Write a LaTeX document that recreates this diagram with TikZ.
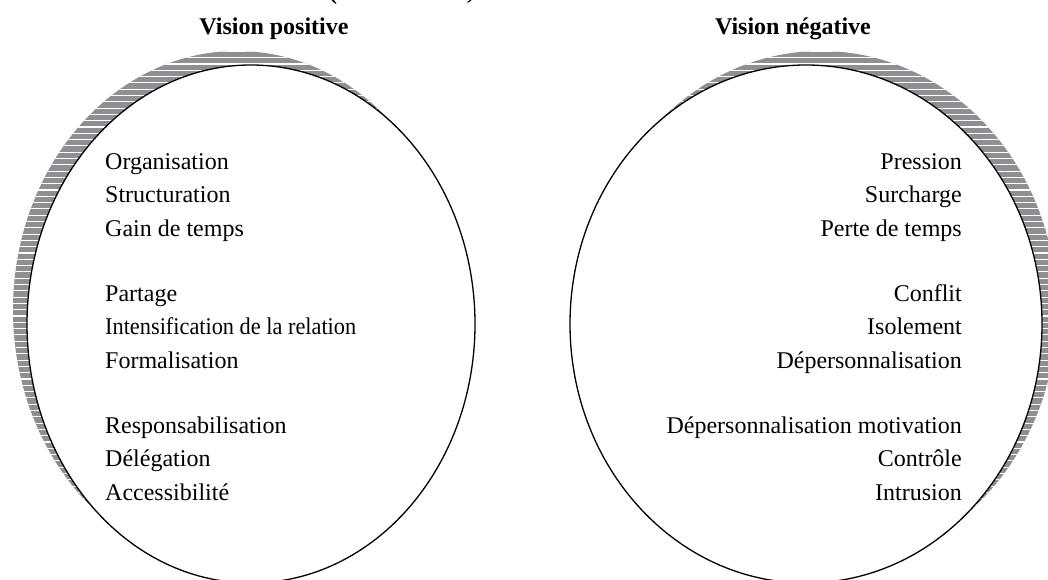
\documentclass[tikz,border=0pt]{standalone}
\usepackage{fontspec}
\setmainfont{Liberation Serif}
\definecolor{shadowgray}{HTML}{8E8F93}
\tikzset{
  heading/.style={font=\bfseries\fontsize{24}{28}\selectfont, inner sep=0pt, anchor=base},
  leftitem/.style={font=\fontsize{24}{28}\selectfont, inner sep=0pt, anchor=base west},
  rightitem/.style={font=\fontsize{24}{28}\selectfont, inner sep=0pt, anchor=base east},
  rim/.style={draw=black, line width=1.3pt, fill=white},
  stripe/.style={white, line width=1.1pt}
}
\begin{document}
\begin{tikzpicture}[x=1pt,y=-1pt]
\useasboundingbox (0,0) rectangle (1048,580);
\clip (0,0) rectangle (1048,580);

% striped shadow behind the left oval
\begin{scope}
  \clip (237,310) ellipse [x radius=224, y radius=259];
  \fill[shadowgray] (0,0) rectangle (524,580);
  \foreach \y in {1,7.3,...,580} \draw[stripe] (0,\y) -- (524,\y);
\end{scope}
% striped shadow behind the right oval
\begin{scope}
  \clip (821,310) ellipse [x radius=236, y radius=259];
  \fill[shadowgray] (524,0) rectangle (1048,580);
  \foreach \y in {1,7.3,...,580} \draw[stripe] (524,\y) -- (1048,\y);
\end{scope}

% the two ovals
\draw[rim] (251,324) ellipse [x radius=224, y radius=259];
\draw[rim] (806,324) ellipse [x radius=236, y radius=259];

% cropped caption line above the headings
\node[heading] (capopen) at (333,0) {(};
\node[heading] (capcomma) at (470,0) {,};

% headings
\node[heading] (hpos) at (274,35) {Vision positive};
\node[heading] (hneg) at (793,35) {Vision négative};

% positive side
\node[leftitem] (p1) at (105,169) {Organisation};
\node[leftitem] (p2) at (105,202.5) {Structuration};
\node[leftitem] (p3) at (105,236) {Gain de temps};
\node[leftitem] (p4) at (105,301) {Partage};
\node[leftitem] (p5) at (105,334.5) {\scalebox{0.93}[1]{Intensification de la relation}};
\node[leftitem] (p6) at (105,368) {Formalisation};
\node[leftitem] (p7) at (105,433) {Responsabilisation};
\node[leftitem] (p8) at (105,466.5) {Délégation};
\node[leftitem] (p9) at (105,500) {Accessibilité};

% negative side
\node[rightitem] (n1) at (962,169) {Pression};
\node[rightitem] (n2) at (962,202.5) {Surcharge};
\node[rightitem] (n3) at (962,236) {Perte de temps};
\node[rightitem] (n4) at (962,301) {Conflit};
\node[rightitem] (n5) at (962,334.5) {Isolement};
\node[rightitem] (n6) at (962,368) {Dépersonnalisation};
\node[rightitem] (n7) at (962,433) {Dépersonnalisation motivation};
\node[rightitem] (n8) at (962,466.5) {Contrôle};
\node[rightitem] (n9) at (962,500) {Intrusion};
\end{tikzpicture}
\end{document}
